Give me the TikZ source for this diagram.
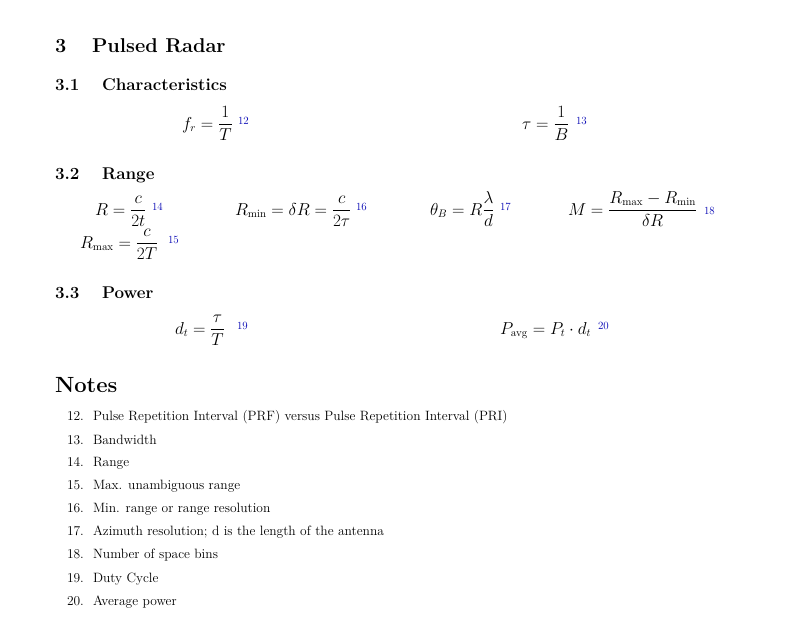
\documentclass[tikz,border=0pt]{standalone}
\usepackage{amsmath}
\begin{document}
\begin{tikzpicture}[x=1pt,y=-1pt,
  every node/.style={inner sep=0pt,outer sep=0pt,anchor=base west},
  sec/.style={font=\fontsize{20}{24}\selectfont\bfseries},
  subsec/.style={font=\fontsize{17}{20}\selectfont\bfseries},
  eq/.style={font=\fontsize{16}{19}\selectfont},
  fn/.style={font=\fontsize{11}{13}\selectfont, text=blue!70!black},
  note/.style={font=\fontsize{13.5}{16}\selectfont}]
\useasboundingbox (0,0) rectangle (800,630);
\node[sec] (s3) at (55,52) {3};
\node[sec] (s3t) at (92,52) {Pulsed Radar};
\node[subsec] (s31) at (55,90) {3.1};
\node[subsec] (s31t) at (102,90) {Characteristics};
\node[eq] (e12) at (182,129) {$f_r=\dfrac{1}{T}$};
\node[fn] (f12) at (238,124) {12};
\node[eq] (e13) at (522,129) {$\tau=\dfrac{1}{B}$};
\node[fn] (f13) at (576,124) {13};
\node[subsec] (s32) at (55,179) {3.2};
\node[subsec] (s32t) at (102,179) {Range};
\node[eq] (e14) at (95,215) {$R=\dfrac{c}{2t}$};
\node[fn] (f14) at (152,210) {14};
\node[eq] (e15) at (80,248) {$R_{\max}=\dfrac{c}{2T}$};
\node[fn] (f15) at (168,243) {15};
\node[eq] (e16) at (235,215) {$R_{\min}=\delta R=\dfrac{c}{2\tau}$};
\node[fn] (f16) at (356,210) {16};
\node[eq] (e17) at (430,215) {$\theta_B=R\dfrac{\lambda}{d}$};
\node[fn] (f17) at (500,210) {17};
\node[eq] (e18) at (568,215) {$M=\dfrac{R_{\max}-R_{\min}}{\delta R}$};
\node[fn] (f18) at (704,214) {18};
\node[subsec] (s33) at (55,298) {3.3};
\node[subsec] (s33t) at (102,298) {Power};
\node[eq] (e19) at (175,334) {$d_t=\dfrac{\tau}{T}$};
\node[fn] (f19) at (237,329) {19};
\node[eq] (e20) at (500,334) {$P_{\mathrm{avg}}=P_t\cdot d_t$};
\node[fn] (f20) at (598,329) {20};
\node[font=\fontsize{22}{26}\selectfont\bfseries] (notes) at (55,392) {Notes};
\foreach \n/\y/\t in {12/420/Pulse Repetition Interval (PRF) versus Pulse Repetition Interval (PRI),
 13/444/Bandwidth, 14/466/Range, 15/489/Max. unambiguous range,
 16/512/Min. range or range resolution,
 17/535/Azimuth resolution; d is the length of the antenna,
 18/558/Number of space bins, 19/582/Duty Cycle, 20/605/Average power}{
 \node[note] (n\n) at (67,\y) {\n.};
 \node[note] (t\n) at (93,\y) {\t};
}
\end{tikzpicture}
\end{document}
